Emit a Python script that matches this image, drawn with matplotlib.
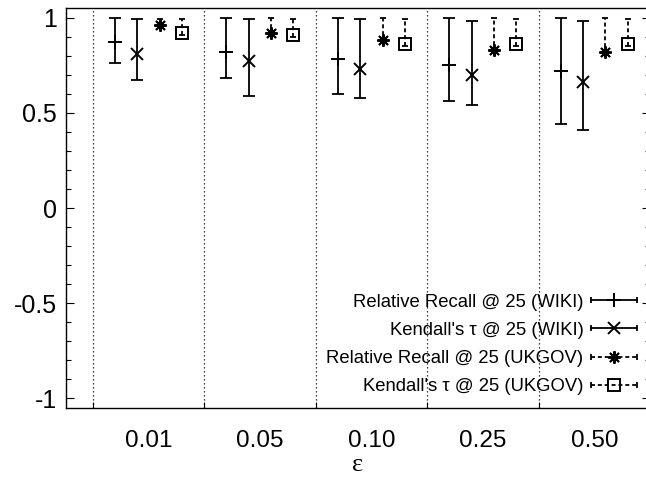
import matplotlib
matplotlib.use("Agg")
import matplotlib.pyplot as plt
from matplotlib.lines import Line2D
from matplotlib.legend_handler import HandlerLine2D, HandlerTuple
from matplotlib.ticker import FixedLocator, MultipleLocator, FuncFormatter

plt.rcParams['font.family'] = ['Liberation Sans', 'DejaVu Sans']

# epsilon values on the x axis
eps_labels = ['0.01', '0.05', '0.10', '0.25', '0.50']

# mean, lower bound, upper bound per epsilon
recall_wiki = [0.87, 0.82, 0.78, 0.75, 0.72]
recall_wiki_lo = [0.76, 0.68, 0.60, 0.56, 0.44]
recall_wiki_hi = [1.00, 1.00, 1.00, 1.00, 1.00]

tau_wiki = [0.81, 0.77, 0.73, 0.70, 0.66]
tau_wiki_lo = [0.67, 0.59, 0.58, 0.54, 0.41]
tau_wiki_hi = [0.99, 0.99, 0.99, 0.98, 0.98]

recall_ukgov = [0.96, 0.92, 0.88, 0.83, 0.82]
recall_ukgov_lo = [0.95, 0.91, 0.87, 0.82, 0.81]
recall_ukgov_hi = [0.99, 1.00, 1.00, 1.00, 1.00]

tau_ukgov = [0.92, 0.91, 0.86, 0.86, 0.86]
tau_ukgov_lo = [0.91, 0.90, 0.85, 0.85, 0.85]
tau_ukgov_hi = [0.99, 0.99, 0.99, 0.99, 0.99]

series_labels = [
    'Relative Recall @ 25 (WIKI)',
    "Kendall's \u03c4 @ 25 (WIKI)",
    'Relative Recall @ 25 (UKGOV)',
    "Kendall's \u03c4 @ 25 (UKGOV)",
]

fig = plt.figure(figsize=(6.46, 4.93), dpi=100)
# right spine sits just past the figure edge, only its inward ticks show
ax = fig.add_axes([66 / 646, 85 / 493, 584 / 646, 400 / 493])

dash = (0, (2.2, 1.6))
star = (8, 2, 0)
series = [
    (recall_wiki, recall_wiki_lo, recall_wiki_hi, '+', '-', -0.3, 9.5, 4.3),
    (tau_wiki, tau_wiki_lo, tau_wiki_hi, 'x', '-', -0.1, 8.5, 4.3),
    (recall_ukgov, recall_ukgov_lo, recall_ukgov_hi, star, dash, 0.1, 9, 2.3),
    (tau_ukgov, tau_ukgov_lo, tau_ukgov_hi, 's', dash, 0.3, 9, 2.3),
]

handles = []
handler_map = {tuple: HandlerTuple(ndivide=1, pad=0)}
for (vals, lo, hi, marker, ls, off, ms, cap), label in zip(series, series_labels):
    xs = [i + 1 + off for i in range(len(vals))]
    err = [[v - l for v, l in zip(vals, lo)], [h - v for v, h in zip(vals, hi)]]
    _, _, bars = ax.errorbar(xs, vals, yerr=err, fmt='none', ecolor='black',
                             elinewidth=1.3, capsize=cap, capthick=1.3)
    for b in bars:
        b.set_linestyle(ls)
    ax.plot(xs, vals, ls='none', marker=marker, ms=ms, mfc='none',
            mec='black', mew=1.4)

    # legend sample: horizontal bar with end caps and the point marker
    cap_line = Line2D([], [], color='black', ls=ls, lw=1.3, marker='|',
                      ms=5, mew=1.3)
    mark = Line2D([], [], ls='none', marker=marker, ms=ms, mfc='none',
                  mec='black', mew=1.4)
    handler_map[cap_line] = HandlerLine2D(numpoints=2, marker_pad=0)
    handles.append((cap_line, mark))

# dotted separators between the epsilon groups
for xsep in [0.5, 1.5, 2.5, 3.5, 4.5]:
    ax.axvline(xsep, color='black', lw=0.9, ls=(0, (1, 2.2)))

ax.set_xlim(0.26, 5.5)
ax.set_ylim(-1.05, 1.05)

ax.xaxis.set_major_locator(FixedLocator([1, 2, 3, 4, 5]))
ax.set_xticklabels(eps_labels)
ax.xaxis.set_minor_locator(FixedLocator([0.5, 1.5, 2.5, 3.5, 4.5]))
ax.tick_params(axis='x', which='major', length=0, pad=16, labelsize=17.5)
ax.tick_params(axis='x', which='minor', direction='in', length=4, width=0.8)

ax.yaxis.set_major_locator(MultipleLocator(0.5))
ax.yaxis.set_minor_locator(MultipleLocator(0.1))
ax.yaxis.set_major_formatter(FuncFormatter(lambda v, _: '%g' % v))
ax.tick_params(axis='y', which='major', direction='in', length=6, width=0.8,
               right=True, labelsize=18, pad=6.5)
ax.tick_params(axis='y', which='minor', direction='in', length=3.5,
               width=0.8, right=True)

for sp in ax.spines.values():
    sp.set_linewidth(1.0)

ax.set_xlabel('\u03b5', family=['Liberation Serif', 'DejaVu Serif'],
              fontsize=19, labelpad=1)

ax.legend(handles, series_labels, handler_map=handler_map, loc='lower right',
          frameon=False, markerfirst=False, fontsize=13.3, handlelength=2.5,
          handletextpad=0.4, labelspacing=0.6, borderaxespad=0.3,
          bbox_to_anchor=(1.0, 0.0))

fig.savefig('out.png', dpi=100)
